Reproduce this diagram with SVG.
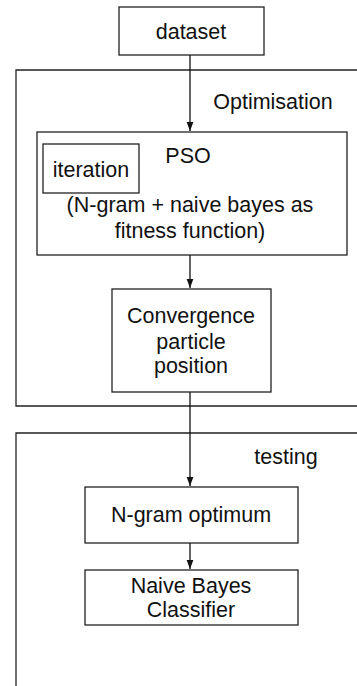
<svg xmlns="http://www.w3.org/2000/svg" width="357" height="686" viewBox="0 0 357 686">
<style>
.box{fill:#fff;stroke:#222;stroke-width:1.3}
.frame{fill:none;stroke:#222;stroke-width:1.3}
.t{font-family:"Liberation Sans",Arial,sans-serif;font-size:21.5px;fill:#111;text-anchor:middle}
.c{fill:none;stroke:#111;stroke-width:1.3}
</style>
<defs>
<marker id="arr" markerWidth="9" markerHeight="12" refX="12" refY="4.5" orient="auto" markerUnits="userSpaceOnUse" viewBox="0 0 12 9">
<path d="M0,0 L12,4.5 L0,9 Z" fill="#111"/>
</marker>
</defs>
<g id="frames">
<path class="frame" d="M357,70 H16 V406 H357"/>
<path class="frame" d="M357,433 H16 V686"/>
<text class="t" x="273" y="109">Optimisation</text>
<text class="t" x="286" y="464">testing</text>
</g>
<g id="connectors">
<line class="c" x1="190" y1="55" x2="190" y2="131" marker-end="url(#arr)"/>
<line class="c" x1="190" y1="255" x2="190" y2="288" marker-end="url(#arr)"/>
<line class="c" x1="190" y1="392" x2="190" y2="486" marker-end="url(#arr)"/>
<line class="c" x1="190" y1="543" x2="190" y2="569" marker-end="url(#arr)"/>
</g>
<g id="dataset">
<rect class="box" x="119" y="7" width="145" height="48"/>
<text class="t" x="191" y="39">dataset</text>
</g>
<g id="pso">
<rect class="box" x="37" y="132" width="310" height="123"/>
<text class="t" x="188" y="163">PSO</text>
<text class="t" x="190" y="212">(N-gram + naive bayes as</text>
<text class="t" x="190" y="238">fitness function)</text>
</g>
<g id="iteration">
<rect class="box" x="43" y="144" width="96" height="49"/>
<text class="t" x="91" y="177">iteration</text>
</g>
<g id="convergence">
<rect class="box" x="112" y="289" width="159" height="103"/>
<text class="t" x="191" y="323">Convergence</text>
<text class="t" x="191" y="349">particle</text>
<text class="t" x="191" y="373">position</text>
</g>
<g id="ngram">
<rect class="box" x="85" y="487" width="213" height="56"/>
<text class="t" x="191" y="522">N-gram optimum</text>
</g>
<g id="naive">
<rect class="box" x="85" y="570" width="213" height="55"/>
<text class="t" x="191" y="593">Naive Bayes</text>
<text class="t" x="191" y="617">Classifier</text>
</g>
</svg>
